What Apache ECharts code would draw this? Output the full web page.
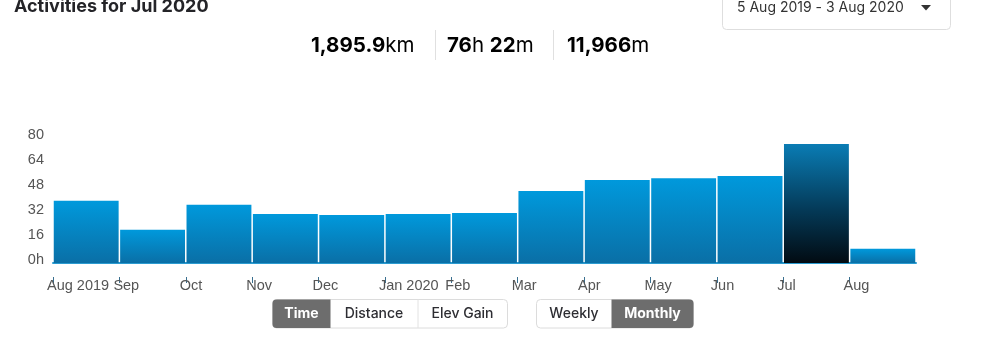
<!DOCTYPE html>
<html>
<head>
<meta charset="utf-8">
<style>
  html, body { margin: 0; padding: 0; background: #fff; }
  #chart { width: 993px; height: 347px; }
</style>
<script src="https://cdn.jsdelivr.net/npm/echarts@6/dist/echarts.min.js"></script>
</head>
<body>
<div id="chart"></div>
<script>
// Monthly moving time (hours), Aug 2019 – Aug 2020
const months = ['2019-08', '2019-09', '2019-10', '2019-11', '2019-12', '2020-01', '2020-02',
                '2020-03', '2020-04', '2020-05', '2020-06', '2020-07', '2020-08'];
const hours = [40.0, 21.4, 37.4, 31.5, 30.8, 31.5, 32.1, 46.2, 53.3, 54.4, 55.9, 76.37, 9.2];
const monthLabels = ['Aug 2019', 'Sep', 'Oct', 'Nov', 'Dec', 'Jan 2020', 'Feb', 'Mar', 'Apr', 'May', 'Jun', 'Jul', 'Aug'];
const yTicks = [0, 16, 32, 48, 64, 80];
const selectedMonth = '2020-07';

const UI_FONT = 'Inter, "Noto Sans", sans-serif';
const AXIS_FONT = '"Liberation Sans", Arial, sans-serif';

const chart = echarts.init(document.getElementById('chart'), null, { renderer: 'canvas' });

const normalFill = new echarts.graphic.LinearGradient(0, 0, 0, 1, [
  { offset: 0, color: '#0099dc' },
  { offset: 1, color: '#0a6fa6' }
]);
const selectedFill = new echarts.graphic.LinearGradient(0, 0, 0, 1, [
  { offset: 0, color: '#0a7cb4' },
  { offset: 0.55, color: '#043a58' },
  { offset: 1, color: '#020b12' }
]);

const barData = hours.map((v, i) => ({
  value: v,
  itemStyle: { color: months[i] === selectedMonth ? selectedFill : normalFill }
}));

// Segmented toggle buttons
function segmented(x, y, h, segs) {
  const els = [];
  const total = segs.reduce((s, g) => s + g.w, 0);
  els.push({
    type: 'rect', shape: { x: x, y: y, width: total, height: h, r: 4 },
    style: { fill: '#fff', stroke: '#dcdcdc', lineWidth: 1 }, z: 10
  });
  let cx = x;
  segs.forEach((g, i) => {
    if (g.active) {
      const r = i === 0 ? [4, 0, 0, 4] : (i === segs.length - 1 ? [0, 4, 4, 0] : 0);
      els.push({
        type: 'rect', shape: { x: cx, y: y, width: g.w, height: h, r: r },
        style: { fill: '#6d6d6d' }, z: 11
      });
    } else if (i > 0 && !segs[i - 1].active) {
      els.push({
        type: 'line', shape: { x1: cx + 0.5, y1: y, x2: cx + 0.5, y2: y + h },
        style: { stroke: '#e2e2e2', lineWidth: 1 }, z: 11
      });
    }
    els.push({
      type: 'text', x: cx + g.w / 2, y: y + h / 2 + 0.5, z: 12,
      style: {
        text: g.text, align: 'center', verticalAlign: 'middle',
        font: (g.active ? '700' : '500') + ' 14px ' + UI_FONT,
        fill: g.active ? '#ffffff' : '#2d2d32'
      }
    });
    cx += g.w;
  });
  return els;
}

function stat(x, parts) {
  return {
    type: 'text', x: x, y: 45.5, z: 10,
    style: {
      text: parts.map(p => '{' + p[1] + '|' + p[0] + '}').join(''),
      verticalAlign: 'middle',
      rich: {
        b: { font: '700 20.5px ' + UI_FONT, fill: '#000000' },
        r: { font: '400 20.5px ' + UI_FONT, fill: '#000000' }
      }
    }
  };
}

const graphics = [
  {
    type: 'text', x: 14, y: 7, z: 10,
    style: { text: 'Activities for Jul 2020', verticalAlign: 'middle', font: '700 18px ' + UI_FONT, fill: '#242428' }
  },
  stat(311, [['1,895.9', 'b'], ['km', 'r']]),
  stat(447, [['76', 'b'], ['h ', 'r'], ['22', 'b'], ['m', 'r']]),
  stat(567, [['11,966', 'b'], ['m', 'r']]),
  { type: 'line', shape: { x1: 435.5, y1: 30, x2: 435.5, y2: 60 }, style: { stroke: '#e0e0e0', lineWidth: 1 }, z: 10 },
  { type: 'line', shape: { x1: 553.5, y1: 30, x2: 553.5, y2: 60 }, style: { stroke: '#e0e0e0', lineWidth: 1 }, z: 10 },
  {
    type: 'rect', shape: { x: 722.5, y: -10, width: 228, height: 39.5, r: 4 },
    style: { fill: '#fff', stroke: '#dedede', lineWidth: 1 }, z: 9
  },
  {
    type: 'text', x: 737, y: 7.5, z: 10,
    style: { text: '5 Aug 2019 - 3 Aug 2020', verticalAlign: 'middle', font: '400 14px ' + UI_FONT, fill: '#333333' }
  },
  {
    type: 'polygon', shape: { points: [[921, 5], [931, 5], [926, 10.5]] },
    style: { fill: '#333333' }, z: 10
  }
].concat(
  segmented(272.5, 299.5, 28.5, [
    { text: 'Time', w: 58, active: true },
    { text: 'Distance', w: 87 },
    { text: 'Elev Gain', w: 90 }
  ]),
  segmented(536.5, 299.5, 28.5, [
    { text: 'Weekly', w: 75 },
    { text: 'Monthly', w: 82, active: true }
  ])
);

const option = {
  animation: false,
  backgroundColor: '#ffffff',
  grid: { left: 53, right: 77, top: 138.4, bottom: 84, containLabel: false },
  xAxis: [
    {
      type: 'category',
      data: months,
      boundaryGap: true,
      axisLine: { show: true, lineStyle: { color: '#2b9bd0', width: 2 } },
      axisTick: { show: false },
      axisLabel: { show: false },
      splitLine: { show: false }
    },
    {
      // month boundaries with labels starting at each tick
      type: 'value',
      min: 0,
      max: months.length,
      interval: 1,
      position: 'bottom',
      offset: 14,
      axisLine: { show: false },
      axisTick: { show: true, length: 6, lineStyle: { color: '#3a6f8f', width: 1 } },
      splitLine: { show: false },
      axisLabel: {
        show: true,
        showMaxLabel: false,
        align: 'left',
        margin: 1,
        padding: [0, 0, 0, -6],
        fontFamily: AXIS_FONT,
        fontSize: 14.5,
        color: '#555555',
        formatter: v => monthLabels[v] || ''
      }
    }
  ],
  yAxis: {
    type: 'value',
    min: yTicks[0],
    max: yTicks[yTicks.length - 1],
    interval: yTicks[1] - yTicks[0],
    axisLine: { show: false },
    axisTick: { show: false },
    splitLine: { show: false },
    axisLabel: {
      margin: 9,
      fontFamily: AXIS_FONT,
      fontSize: 14.5,
      color: '#555555',
      verticalAlign: 'bottom',
      lineHeight: 6,
      formatter: v => (v === 0 ? '0h' : String(v))
    }
  },
  series: [{
    type: 'bar',
    xAxisIndex: 0,
    data: barData,
    barCategoryGap: 1.5,
    itemStyle: { borderWidth: 0 },
    z: 2
  }],
  graphic: graphics
};

chart.setOption(option);
</script>
</body>
</html>
